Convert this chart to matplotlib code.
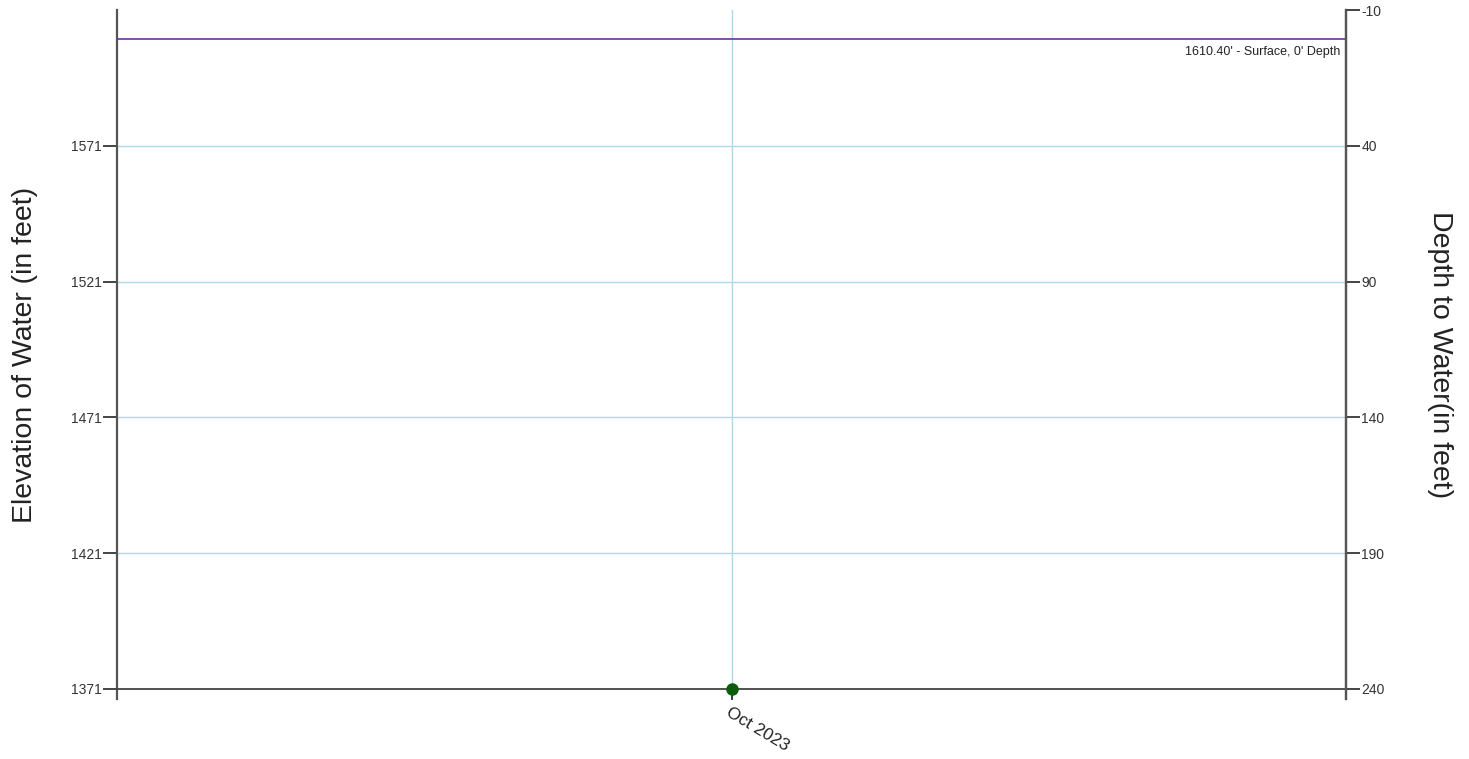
import matplotlib
matplotlib.use("Agg")
import matplotlib.pyplot as plt
from datetime import datetime, timedelta

plt.rcParams['font.family'] = ['Liberation Sans', 'DejaVu Sans']

# Data
dates = [datetime(2023, 10, 1)]
elevations = [1371]
surface_elev = 1610.40
surface_label = "1610.40' - Surface, 0' Depth"
depth_offset = 1611
left_ticks = [1371, 1421, 1471, 1521, 1571]
right_ticks = [-10, 40, 90, 140, 190, 240]
x_tick_labels = ['Oct 2023']

fig = plt.figure(figsize=(14.69, 7.59), dpi=100)
ax = fig.add_axes([117 / 1469, 60 / 759, (1346 - 117) / 1469, (749 - 60) / 759])

ymin, ymax = 1367.3, 1621
span = timedelta(days=365)
ax.set_xlim(dates[0] - span, dates[0] + span)
ax.set_ylim(ymin, ymax)

# grid
for t in left_ticks[1:]:
    ax.axhline(t, color='#add8e6', lw=1, zorder=1)
ax.axvline(dates[0], color='#add8e6', lw=1, zorder=1)

# surface line
ax.axhline(surface_elev, color='#7030a0', lw=1.2, zorder=3)
ax.text(0.9955, surface_elev - 2.5, surface_label, transform=ax.get_yaxis_transform(),
        ha='right', va='top', fontsize=9, color='#222222')

# data
ax.plot(dates, elevations, 'o', color='#0b5d0b', ms=8, zorder=5, clip_on=False)

ax.spines['top'].set_visible(False)
ax.spines['bottom'].set_position(('data', left_ticks[0]))
ax.spines['bottom'].set_color('#444444')
ax.spines['bottom'].set_linewidth(1.3)
for s in ['left', 'right']:
    ax.spines[s].set_color('#555555')
    ax.spines[s].set_linewidth(1.6)

ax.set_yticks(left_ticks)
ax.set_yticklabels([str(t) for t in left_ticks])
ax.tick_params(axis='y', length=10, width=1.1, color='#111111', labelsize=10, labelcolor='#333333', pad=1)

ax.set_xticks(dates)
ax.set_xticklabels(x_tick_labels, rotation=-31, ha='left', va='top', rotation_mode='anchor',
                   fontsize=12.5, color='#222222')
ax.tick_params(axis='x', length=8, width=1.1, color='#111111', pad=3)
ax.set_ylabel('Elevation of Water (in feet)', fontsize=20.5, color='#222222', labelpad=24)

# right axis: depth
ax2 = ax.twinx()
ax2.set_ylim(depth_offset - ymin, depth_offset - ymax)
ax2.set_yticks(right_ticks)
ax2.set_yticklabels([str(t) for t in right_ticks])
ax2.tick_params(axis='y', length=10, width=1.1, color='#111111', labelsize=10, labelcolor='#333333', pad=1)
for s in ['top', 'bottom', 'left']:
    ax2.spines[s].set_visible(False)
ax2.spines['right'].set_color('#555555')
ax2.spines['right'].set_linewidth(1.6)
ax2.set_ylabel('Depth to Water(in feet)', fontsize=20.5, color='#222222', rotation=-90, labelpad=49)

fig.savefig('out.png', dpi=100)
